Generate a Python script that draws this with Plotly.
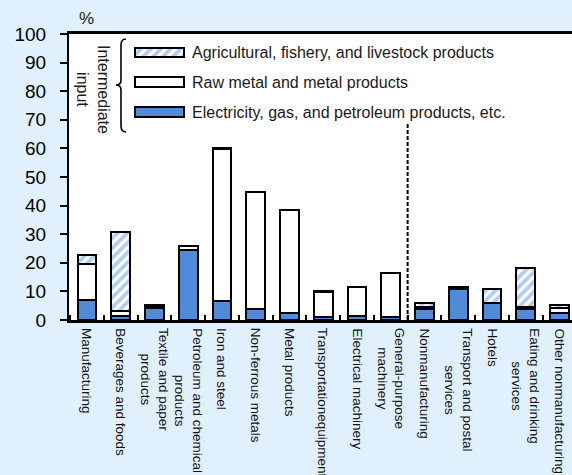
import plotly.graph_objects as go

categories = [
    "Manufacturing", "Beverages and foods", "Textile and paper<br>products",
    "Petroleum and chemical<br>products", "Iron and steel", "Non-ferrous metals",
    "Metal products", "Transportationequipment", "Electrical machinery",
    "General-purpose<br>machinery", "Nonmanufacturing", "Transport and postal<br>services",
    "Hotels", "Eating and drinking<br>services", "Other nonmanufacturing",
]
electricity = [7.0, 1.4, 4.2, 24.4, 6.8, 3.9, 2.3, 1.0, 1.5, 1.1, 3.8, 10.8, 5.8, 4.0, 2.6]
raw_metal = [12.5, 1.6, 0.6, 1.4, 53.0, 40.8, 36.2, 8.9, 10.0, 15.2, 0.9, 0.4, 0.3, 0.5, 1.6]
agricultural = [3.4, 27.9, 0.3, 0.2, 0.4, 0.1, 0.1, 0.1, 0.1, 0.1, 1.1, 0.4, 4.6, 13.8, 0.9]
legend_names = [
    "Agricultural, fishery, and livestock products",
    "Raw metal and metal products",
    "Electricity, gas, and petroleum products, etc.",
]
y_ticks = list(range(0, 101, 10))

W, H = 572, 475
L, R, T, B = 69, 572, 34, 320
FONT = "Liberation Sans, Arial, sans-serif"
BLUE = "#4F8BD8"
HATCH = "#619AE2"
BG = "#E0F0FC"


def px(xp):
    return (xp - L) / (R - L)


def py(yp):
    return (B - yp) / (B - T)


line = dict(color="black", width=2)
hatch = dict(shape="/", fgcolor=HATCH, bgcolor="white", size=7, solidity=0.55)
fig = go.Figure()
fig.add_bar(x=categories, y=electricity, marker=dict(color=BLUE, line=line),
            name=legend_names[2], showlegend=False)
fig.add_bar(x=categories, y=raw_metal, marker=dict(color="white", line=line),
            name=legend_names[1], showlegend=False)
fig.add_bar(x=categories, y=agricultural, marker=dict(color="white", line=line, pattern=hatch),
            name=legend_names[0], showlegend=False)

# legend swatches on a small overlay axis
sw_x0, sw_x1 = 135, 184
unit = sw_x1 - sw_x0
dx0 = px(sw_x0 - 0.05 * unit)
dx1 = px(sw_x1 + 0.05 * unit)
rows_px = [112, 82.5, 52.5]  # bottom -> top (electricity, raw, agri)
dy0 = py(rows_px[0] + 15)
dy1 = py(rows_px[2] - 15)
sw_w = 9.5 / 29.8
for i, mk in enumerate([dict(color=BLUE, line=line),
                        dict(color="white", line=line),
                        dict(color="white", line=line, pattern=hatch)]):
    fig.add_bar(y=[i], x=[1], base=0, orientation="h", width=sw_w, marker=mk,
                xaxis="x3", yaxis="y3", showlegend=False, hoverinfo="skip")

annotations = []
for name, rp in zip(legend_names, [52.5, 82.5, 112]):
    annotations.append(dict(x=px(190), y=py(rp), xref="paper", yref="paper",
                            text=name, showarrow=False, xanchor="left", yanchor="middle",
                            font=dict(family=FONT, size=16, color="#1a1a1a")))
annotations.append(dict(x=px(93), y=py(89), xref="paper", yref="paper",
                        text="Intermediate<br>input", textangle=90, showarrow=False,
                        xanchor="center", yanchor="middle", align="center",
                        font=dict(family=FONT, size=16, color="#1a1a1a")))
annotations.append(dict(x=px(86), y=py(19), xref="paper", yref="paper", text="%",
                        showarrow=False, xanchor="center", yanchor="middle",
                        font=dict(family=FONT, size=17, color="#1a1a1a")))
# category labels (rotated, centred lines)
for i, c in enumerate(categories):
    annotations.append(dict(x=i, y=0, xref="x", yref="paper", text=c, textangle=90,
                            showarrow=False, xanchor="center", yanchor="top",
                            align="center", yshift=-6,
                            font=dict(family=FONT, size=13.5, color="#111")))

# brace
bx = 121
brace = (f"M {px(126)},{py(39)} Q {px(bx)},{py(39)} {px(bx)},{py(45)} "
         f"L {px(bx)},{py(80)} Q {px(bx)},{py(85)} {px(116)},{py(85)} "
         f"Q {px(bx)},{py(85)} {px(bx)},{py(90)} "
         f"L {px(bx)},{py(126)} Q {px(bx)},{py(132)} {px(126)},{py(132)}")
shapes = [
    dict(type="path", path=brace, xref="paper", yref="paper",
         line=dict(color="black", width=1.6)),
    dict(type="line", xref="x", yref="y", x0=9.5, x1=9.5, y0=0, y1=69.2,
         line=dict(color="black", width=2, dash="4px,2px")),
]

fig.update_layout(
    width=W, height=H,
    margin=dict(l=L, r=W - R, t=T, b=H - B, pad=0),
    paper_bgcolor=BG, plot_bgcolor="white",
    barmode="stack", bargap=0.45,
    font=dict(family=FONT, color="black"),
    xaxis=dict(type="category", range=[-0.533, 14.37], showticklabels=False,
               ticks="inside", tickson="boundaries", ticklen=5, tickwidth=2,
               tickcolor="black", showline=True, linecolor="black", linewidth=2.5,
               mirror=True, showgrid=False, automargin=False, fixedrange=True),
    yaxis=dict(range=[0, 100], tickvals=y_ticks, ticks="outside", ticklen=7, tickwidth=2,
               tickcolor="black", showline=True, linecolor="black", linewidth=2,
               showgrid=False, zeroline=False, tickfont=dict(size=19, family=FONT),
               ticklabelstandoff=10, automargin=False),
    xaxis3=dict(domain=[dx0, dx1], range=[-0.05, 1.05], visible=False, anchor="y3",
                fixedrange=True),
    yaxis3=dict(domain=[dy0, dy1], range=[-0.5, 2.5], visible=False, anchor="x3",
                fixedrange=True),
    annotations=annotations, shapes=shapes, showlegend=False,
)

fig.write_html(
    "out.html",
    config={"displayModeBar": False},
    post_script=(f"document.body.style.margin='0';"
                 f"document.body.style.background='{BG}';"
                 f"document.documentElement.style.overflow='hidden';"),
)
